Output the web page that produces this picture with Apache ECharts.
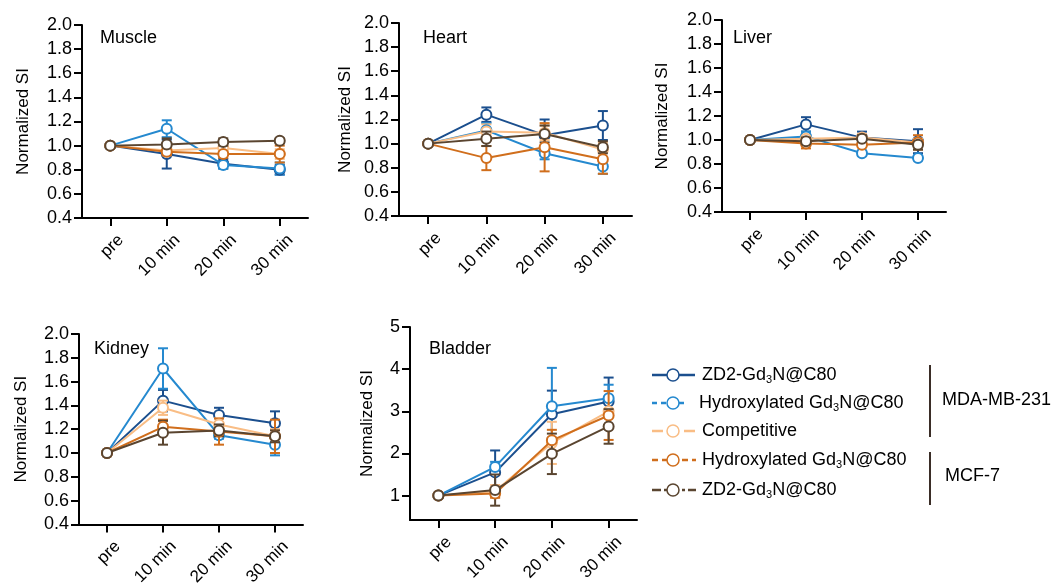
<!DOCTYPE html>
<html>
<head>
<meta charset="utf-8">
<script src="https://cdn.jsdelivr.net/npm/echarts@6/dist/echarts.min.js"></script>
<style>html,body{margin:0;padding:0;background:#fff}#c{width:1051px;height:588px}</style>
</head>
<body>
<div id="c"></div>
<script>
// ---------- data ----------
const categories = ['pre', '10 min', '20 min', '30 min'];
// order: ZD2 (MDA-MB-231), Hydroxylated (MDA-MB-231), Competitive, Hydroxylated (MCF-7), ZD2 (MCF-7)
const seriesColors = ['#1b4f8e', '#2589cf', '#f9bd85', '#d06e1c', '#5a4530'];

const muscleMean = [[1,0.93,0.85,0.80],[1,1.14,0.84,0.81],[1,0.96,0.98,0.93],[1,0.95,0.93,0.93],[1,1.01,1.03,1.04]];
const muscleErr  = [[0,0.12,0.04,0.04],[0,0.07,0.03,0.05],[0,0.04,0.04,0.04],[0,0.03,0.03,0.07],[0,0.05,0.03,0.02]];

const heartMean = [[1,1.24,1.07,1.15],[1,1.11,0.92,0.81],[1,1.10,1.09,0.95],[1,0.88,0.97,0.87],[1,1.04,1.08,0.97]];
const heartErr  = [[0,0.06,0.13,0.12],[0,0.06,0.05,0.06],[0,0.06,0.06,0.06],[0,0.10,0.20,0.12],[0,0.06,0.07,0.05]];

const liverMean = [[1,1.13,1.02,0.99],[1,1.03,0.89,0.85],[1,1.01,1.02,0.98],[1,0.97,0.96,0.98],[1,0.99,1.01,0.96]];
const liverErr  = [[0,0.06,0.05,0.10],[0,0.04,0.02,0.02],[0,0.03,0.03,0.03],[0,0.04,0.02,0.06],[0,0.03,0.03,0.04]];

const kidneyMean = [[1,1.44,1.32,1.25],[1,1.71,1.15,1.07],[1,1.38,1.24,1.14],[1,1.22,1.18,1.14],[1,1.17,1.19,1.14]];
const kidneyErr  = [[0,0.09,0.06,0.10],[0,0.17,0.03,0.09],[0,0.06,0.05,0.06],[0,0.06,0.11,0.14],[0,0.10,0.05,0.05]];

const bladderMean = [[1,1.55,2.93,3.23],[1,1.68,3.12,3.31],[1,1.10,2.25,3.00],[1,1.05,2.31,2.90],[1,1.13,1.99,2.64]];
const bladderErr  = [[0,0.52,0.56,0.57],[0,0.12,0.91,0.32],[0,0.15,0.50,0.35],[0,0.10,0.25,0.58],[0,0.37,0.48,0.41]];

const bladderTicks = [1, 2, 3, 4, 5];
const organTicksStep = 0.2;

// ---------- layout ----------
const FONT = '"Liberation Sans", Arial, sans-serif';
const panels = [
  { name: 'Muscle',  mean: muscleMean,  err: muscleErr,  grid: {left: 82,  top: 25,  width: 226, height: 193}, title: [100, 38], gap: 50 },
  { name: 'Heart',   mean: heartMean,   err: heartErr,   grid: {left: 399, top: 23,  width: 233, height: 193}, title: [423, 38], gap: 45 },
  { name: 'Liver',   mean: liverMean,   err: liverErr,   grid: {left: 722, top: 20,  width: 224, height: 192}, title: [733, 38], gap: 51 },
  { name: 'Kidney',  mean: kidneyMean,  err: kidneyErr,  grid: {left: 79,  top: 334, width: 224, height: 193}, title: [94, 349], gap: 49 },
  { name: 'Bladder', mean: bladderMean, err: bladderErr, grid: {left: 410, top: 327, width: 227, height: 193}, title: [429, 349], gap: 34, bladder: true }
];

const axisLine = { show: true, lineStyle: { color: '#000', width: 2 } };
const axisTick = { show: true, length: 8, lineStyle: { color: '#000', width: 2 } };

const grids = [], xAxes = [], yAxes = [], series = [], graphics = [];

panels.forEach((p, pi) => {
  grids.push(Object.assign({ containLabel: false }, p.grid));
  xAxes.push({
    type: 'category', gridIndex: pi, data: categories, boundaryGap: true,
    axisLine: axisLine, axisTick: Object.assign({ alignWithLabel: true }, axisTick),
    axisLabel: { rotate: 45, fontSize: 17, color: '#000', fontFamily: FONT, margin: 30, interval: 0, padding: [0, -15, 0, 0] },
    splitLine: { show: false }
  });
  const y = {
    type: 'value', gridIndex: pi,
    name: 'Normalized SI', nameLocation: 'middle', nameGap: p.gap, nameRotate: 90,
    nameTextStyle: { fontSize: 17, color: '#000', fontFamily: FONT },
    axisLine: axisLine, axisTick: axisTick,
    axisLabel: { fontSize: 18, color: '#000', fontFamily: FONT, margin: 10 },
    splitLine: { show: false }
  };
  if (p.bladder) {
    y.min = 0.42; y.max = 5;
    y.axisTick = Object.assign({ customValues: bladderTicks }, axisTick);
    y.axisLabel = Object.assign({}, y.axisLabel, { customValues: bladderTicks, formatter: v => String(Math.round(v)) });
  } else {
    y.min = 0.4; y.max = 2.0; y.interval = organTicksStep;
    y.axisLabel.formatter = v => v.toFixed(1);
  }
  yAxes.push(y);

  p.mean.forEach((vals, si) => {
    const color = seriesColors[si];
    series.push({
      type: 'custom', xAxisIndex: pi, yAxisIndex: pi, z: 2 + si,
      data: vals.map((v, i) => [i, v, p.err[si][i]]),
      encode: { x: 0, y: 1 },
      renderItem: function (params, api) {
        const e = api.value(2);
        if (!e) return null;
        const xi = api.value(0), m = api.value(1);
        const top = api.coord([xi, m + e]);
        const bot = api.coord([xi, m - e]);
        const hw = 5;
        const st = { stroke: color, lineWidth: 2 };
        return {
          type: 'group', children: [
            { type: 'line', shape: { x1: top[0], y1: top[1], x2: bot[0], y2: bot[1] }, style: st },
            { type: 'line', shape: { x1: top[0] - hw, y1: top[1], x2: top[0] + hw, y2: top[1] }, style: st },
            { type: 'line', shape: { x1: bot[0] - hw, y1: bot[1], x2: bot[0] + hw, y2: bot[1] }, style: st }
          ]
        };
      },
      silent: true
    });
    series.push({
      type: 'line', xAxisIndex: pi, yAxisIndex: pi, z: 3 + si,
      data: vals, symbol: 'emptyCircle', symbolSize: 10,
      lineStyle: { color: color, width: 2 },
      itemStyle: { color: color, borderWidth: 1.2 },
      animation: false
    });
  });

  graphics.push({
    type: 'text', x: p.title[0], y: p.title[1],
    style: { text: p.name, fontSize: 18, fontFamily: FONT, fill: '#000', verticalAlign: 'middle' }
  });
});

// ---------- legend (drawn as graphics) ----------
const legendLabels = ['ZD2-Gd{s|3}N@C80', 'Hydroxylated Gd{s|3}N@C80', 'Competitive', 'Hydroxylated Gd{s|3}N@C80', 'ZD2-Gd{s|3}N@C80'];
const legendRows = [375, 403, 431, 460, 490];
const legendTextX = [702, 699, 702, 702, 702];
const legendDash = [null, [5, 4], [11, 5], [6, 4], [9, 3, 3, 3]];
const legendEnd = [695, 688, 696, 696, 696];

legendLabels.forEach((lab, i) => {
  const y = legendRows[i], c = seriesColors[i];
  graphics.push({
    type: 'line', shape: { x1: 652, y1: y, x2: legendEnd[i], y2: y },
    style: { stroke: c, lineWidth: 2.5, lineDash: legendDash[i] || null }
  });
  graphics.push({
    type: 'circle', shape: { cx: 673, cy: y, r: 6 },
    style: { fill: '#fff', stroke: c, lineWidth: 1.5 }
  });
  graphics.push({
    type: 'text', x: legendTextX[i], y: y,
    style: {
      text: lab, fontSize: 18, fontFamily: FONT, fill: '#000', verticalAlign: 'middle',
      rich: { s: { fontSize: 11, fontFamily: FONT, fill: '#000', verticalAlign: 'bottom', padding: [10, 0, 0, 0] } }
    }
  });
});
graphics.push({ type: 'line', shape: { x1: 930, y1: 365, x2: 930, y2: 437 }, style: { stroke: '#3a2d27', lineWidth: 2 } });
graphics.push({ type: 'line', shape: { x1: 930, y1: 452, x2: 930, y2: 505 }, style: { stroke: '#3a2d27', lineWidth: 2 } });
graphics.push({ type: 'text', x: 942, y: 400, style: { text: 'MDA-MB-231', fontSize: 18, fontFamily: FONT, fill: '#000', verticalAlign: 'middle' } });
graphics.push({ type: 'text', x: 945, y: 476, style: { text: 'MCF-7', fontSize: 18, fontFamily: FONT, fill: '#000', verticalAlign: 'middle' } });

const chart = echarts.init(document.getElementById('c'), null, { renderer: 'canvas' });
chart.setOption({
  backgroundColor: '#fff',
  animation: false,
  grid: grids, xAxis: xAxes, yAxis: yAxes, series: series,
  graphic: graphics
});
</script>
</body>
</html>
